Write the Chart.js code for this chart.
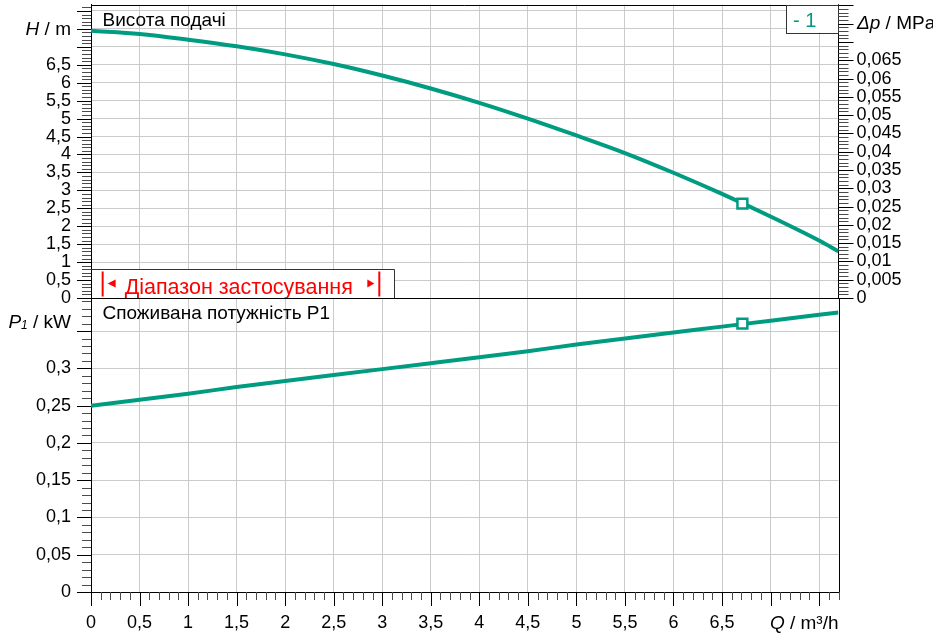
<!DOCTYPE html>
<html>
<head>
<meta charset="utf-8">
<script src="https://cdn.jsdelivr.net/npm/chart.js@4.4.1/dist/chart.umd.min.js"></script>
<style>
  html, body { margin: 0; padding: 0; background: #fff; }
  #wrap { position: relative; width: 933px; height: 636px; overflow: hidden; }
  canvas { position: absolute; left: 0; }
  #topChart { top: 0; }
  #botChart { top: 298px; }
</style>
</head>
<body>
<div id="wrap">
  <canvas id="topChart" width="933" height="320"></canvas>
  <canvas id="botChart" width="933" height="338"></canvas>
</div>
<script>
// flow (m³/h) and the two curves
const flowQ  = [0, 0.5, 1, 1.5, 2, 2.5, 3, 3.5, 4, 4.5, 5, 5.5, 6, 6.5, 7, 7.5, 7.7];
const headH  = [7.45, 7.36, 7.20, 7.015, 6.79, 6.52, 6.20, 5.84, 5.44, 5.00, 4.53, 4.04, 3.49, 2.90, 2.27, 1.60, 1.30];
const powerP = [0.250, 0.258, 0.266, 0.275, 0.283, 0.291, 0.299, 0.307, 0.315, 0.323, 0.332, 0.340, 0.348, 0.356, 0.364, 0.372, 0.375];

// duty point and range of use
const dutyQ = [6.71];
const dutyH = [2.63];
const dutyP = [0.360];
const rangeQ = [0.12, 2.97];

// axis limits
const qMax = 7.7;
const hMax = 8.18;
const pMax = 0.394;
const mToMPa = 0.00981;

// tick labels
const qLabels  = ['0', '0,5', '1', '1,5', '2', '2,5', '3', '3,5', '4', '4,5', '5', '5,5', '6', '6,5'];
const hLabels  = ['0', '0,5', '1', '1,5', '2', '2,5', '3', '3,5', '4', '4,5', '5', '5,5', '6', '6,5'];
const dpLabels = ['0', '0,005', '0,01', '0,015', '0,02', '0,025', '0,03', '0,035', '0,04', '0,045', '0,05', '0,055', '0,06', '0,065'];
const pLabels  = ['0', '0,05', '0,1', '0,15', '0,2', '0,25', '0,3'];

const teal = '#009c82';
const gridGrey = '#cbcbcb';
const FONT = "'Liberation Sans', Arial, sans-serif";
const tickFont = { family: FONT, size: 18 };

const toXY = (xs, ys) => xs.map((x, i) => ({ x: x, y: ys[i] }));

function drawTicks(ctx, scale, step, every, side, bigLen, smallLen) {
  ctx.save();
  ctx.lineWidth = 1;
  for (let i = 0; i * step <= scale.max + 1e-9; i++) {
    const big = i % every === 0;
    const p = Math.round(scale.getPixelForValue(+(i * step).toFixed(4))) + 0.5;
    const len = big ? bigLen : smallLen;
    ctx.strokeStyle = big ? '#000' : '#4a4a4a';
    ctx.beginPath();
    if (side === 'bottom') { ctx.moveTo(p, scale.top); ctx.lineTo(p, scale.top + len); }
    else if (side === 'left') { ctx.moveTo(scale.right - len, p); ctx.lineTo(scale.right, p); }
    else { ctx.moveTo(scale.left, p); ctx.lineTo(scale.left + len, p); }
    ctx.stroke();
  }
  ctx.restore();
}

// parts: [text, font, dy]
function drawParts(ctx, parts, x, y, align, color) {
  ctx.save();
  ctx.fillStyle = color || '#000';
  ctx.textBaseline = 'middle';
  ctx.textAlign = 'left';
  let total = 0;
  parts.forEach(p => { ctx.font = p[1]; total += ctx.measureText(p[0]).width; });
  let cx = align === 'right' ? x - total : x;
  parts.forEach(p => {
    ctx.font = p[1];
    ctx.fillText(p[0], cx, y + (p[2] || 0));
    cx += ctx.measureText(p[0]).width;
  });
  ctx.restore();
}

const topDecor = {
  id: 'topDecor',
  afterDraw(chart) {
    const ctx = chart.ctx;
    const a = chart.chartArea;
    const xs = chart.scales.x, ys = chart.scales.y, dps = chart.scales.y2;

    ctx.save();
    ctx.strokeStyle = '#000';
    ctx.lineWidth = 1;
    ctx.beginPath();
    ctx.moveTo(a.left, Math.round(a.top) + 0.5);
    ctx.lineTo(a.right, Math.round(a.top) + 0.5);
    ctx.stroke();

    // range of use box
    const r0 = xs.getPixelForValue(rangeQ[0]);
    const r1 = xs.getPixelForValue(rangeQ[1]);
    const boxR = Math.round(r1 + 15) + 0.5;
    const boxT = Math.round(a.bottom - 29) + 0.5;
    ctx.fillStyle = '#fff';
    ctx.fillRect(a.left + 1, boxT, boxR - a.left - 1, a.bottom - boxT);
    ctx.strokeStyle = '#333';
    ctx.beginPath();
    ctx.moveTo(a.left, boxT); ctx.lineTo(boxR, boxT); ctx.lineTo(boxR, a.bottom);
    ctx.stroke();
    ctx.fillStyle = '#ff0000';
    ctx.fillRect(r0 - 1, boxT + 2, 2, 25);
    ctx.fillRect(r1 - 1, boxT + 2, 2, 25);
    const my = boxT + 14;
    ctx.beginPath();
    ctx.moveTo(r0 + 5, my); ctx.lineTo(r0 + 13, my - 4); ctx.lineTo(r0 + 13, my + 4); ctx.closePath();
    ctx.fill();
    ctx.beginPath();
    ctx.moveTo(r1 - 5, my); ctx.lineTo(r1 - 12, my - 4); ctx.lineTo(r1 - 12, my + 4); ctx.closePath();
    ctx.fill();
    ctx.font = '21.5px ' + FONT;
    ctx.textBaseline = 'alphabetic';
    ctx.fillText('Діапазон застосування', r0 + 22, a.bottom - 4);

    // panel title
    ctx.fillStyle = '#000';
    ctx.font = '19px ' + FONT;
    ctx.fillText('Висота подачі', a.left + 11.5, 26);

    // legend box
    ctx.strokeStyle = '#333';
    ctx.fillStyle = '#fff';
    ctx.fillRect(786.5, a.top, a.right - 786.5, 28);
    ctx.strokeRect(786.5, Math.round(a.top) + 0.5, a.right - 786.5, 28);
    ctx.fillStyle = teal;
    ctx.font = '20px ' + FONT;
    ctx.fillText('- 1', 793, 27);
    ctx.restore();

    drawTicks(ctx, ys, 0.1, 5, 'left', 14, 9);
    drawTicks(ctx, dps, 0.001, 5, 'right', 15, 10);

    drawParts(ctx, [['H', 'italic 19px ' + FONT], [' / m', '19px ' + FONT]], 71, ys.getPixelForValue(7.5) + 1, 'right');
    drawParts(ctx, [['Δp', 'italic 19px ' + FONT], [' / MPa', '19px ' + FONT]], 857, dps.getPixelForValue(0.075), 'left');
  }
};

const botDecor = {
  id: 'botDecor',
  afterDraw(chart) {
    const ctx = chart.ctx;
    const a = chart.chartArea;
    const xs = chart.scales.x, ys = chart.scales.y;
    ctx.save();
    ctx.strokeStyle = '#000';
    ctx.lineWidth = 1;
    ctx.beginPath();
    ctx.moveTo(a.left, Math.round(a.top) + 0.5);
    ctx.lineTo(Math.round(a.right) + 0.5, Math.round(a.top) + 0.5);
    ctx.lineTo(Math.round(a.right) + 0.5, a.bottom);
    ctx.stroke();
    ctx.fillStyle = '#000';
    ctx.font = '19px ' + FONT;
    ctx.textBaseline = 'alphabetic';
    ctx.fillText('Споживана потужність P1', a.left + 11.5, 21);
    ctx.restore();

    drawTicks(ctx, xs, 0.1, 5, 'bottom', 14, 8);
    drawTicks(ctx, ys, 0.01, 5, 'left', 14, 9);

    drawParts(ctx, [['P', 'italic 19px ' + FONT], ['1', 'italic 12px ' + FONT, 3], [' / kW', '19px ' + FONT]],
      71, ys.getPixelForValue(0.35) - 8, 'right');
    drawParts(ctx, [['Q', 'italic 19px ' + FONT], [' / m³/h', '19px ' + FONT]], a.right, xs.bottom - 12, 'right');
  }
};

const noPad = s => { s.paddingTop = 0; s.paddingBottom = 0; s.paddingLeft = 0; s.paddingRight = 0; };

new Chart(document.getElementById('topChart'), {
  type: 'line',
  data: {
    datasets: [
      { data: toXY(dutyQ, dutyH), showLine: false, pointStyle: 'rect', pointRadius: 7, pointBorderWidth: 2.5,
        pointBorderColor: teal, pointBackgroundColor: '#fff', order: 0 },
      { data: toXY(flowQ, headH), borderColor: teal, borderWidth: 4, pointRadius: 0,
        cubicInterpolationMode: 'monotone', order: 1 }
    ]
  },
  options: {
    responsive: false,
    animation: false,
    layout: { autoPadding: false, padding: { top: 4.5, left: 0, right: 0, bottom: 0 } },
    plugins: { legend: { display: false }, tooltip: { enabled: false } },
    scales: {
      x: {
        type: 'linear', min: 0, max: qMax,
        ticks: { display: false, stepSize: 0.5, includeBounds: false },
        grid: { color: gridGrey, drawTicks: false },
        border: { color: '#000' },
        afterFit: s => { s.height = 22; noPad(s); }
      },
      y: {
        type: 'linear', position: 'left', min: 0, max: hMax,
        ticks: { stepSize: 0.5, includeBounds: false, autoSkip: false, padding: 20, font: tickFont, color: '#000',
          callback: (v, i) => hLabels[i] ?? '' },
        grid: { color: c => c.tick && c.tick.value === 0 ? 'rgba(0,0,0,0)' : gridGrey, drawTicks: false },
        border: { color: '#000' },
        afterFit: s => { s.width = 91; noPad(s); }
      },
      y2: {
        type: 'linear', position: 'right', min: 0, max: hMax * mToMPa,
        ticks: { stepSize: 0.005, includeBounds: false, autoSkip: false, padding: 18, font: tickFont, color: '#000',
          callback: (v, i) => dpLabels[i] ?? '' },
        grid: { drawOnChartArea: false, drawTicks: false },
        border: { color: '#000' },
        afterFit: s => { s.width = 94.5; noPad(s); }
      }
    }
  },
  plugins: [topDecor]
});

new Chart(document.getElementById('botChart'), {
  type: 'line',
  data: {
    datasets: [
      { data: toXY(dutyQ, dutyP), showLine: false, pointStyle: 'rect', pointRadius: 7, pointBorderWidth: 2.5,
        pointBorderColor: teal, pointBackgroundColor: '#fff', order: 0 },
      { data: toXY(flowQ, powerP), borderColor: teal, borderWidth: 4, pointRadius: 0,
        cubicInterpolationMode: 'monotone', order: 1 }
    ]
  },
  options: {
    responsive: false,
    animation: false,
    layout: { autoPadding: false, padding: { top: 0.3, left: 0, right: 94.5, bottom: 0 } },
    plugins: { legend: { display: false }, tooltip: { enabled: false } },
    scales: {
      x: {
        type: 'linear', min: 0, max: qMax,
        ticks: { stepSize: 0.5, includeBounds: false, autoSkip: false, maxRotation: 0, padding: 20, font: tickFont, color: '#000',
          callback: (v, i) => qLabels[i] ?? '' },
        grid: { color: gridGrey, drawTicks: false },
        border: { color: '#000' },
        afterFit: s => { s.height = 44; noPad(s); }
      },
      y: {
        type: 'linear', position: 'left', min: 0, max: pMax,
        ticks: { stepSize: 0.05, includeBounds: false, autoSkip: false, padding: 20, font: tickFont, color: '#000',
          callback: (v, i) => pLabels[i] ?? '' },
        grid: { color: gridGrey, drawTicks: false },
        border: { color: '#000' },
        afterFit: s => { s.width = 91; noPad(s); }
      }
    }
  },
  plugins: [botDecor]
});
</script>
</body>
</html>
